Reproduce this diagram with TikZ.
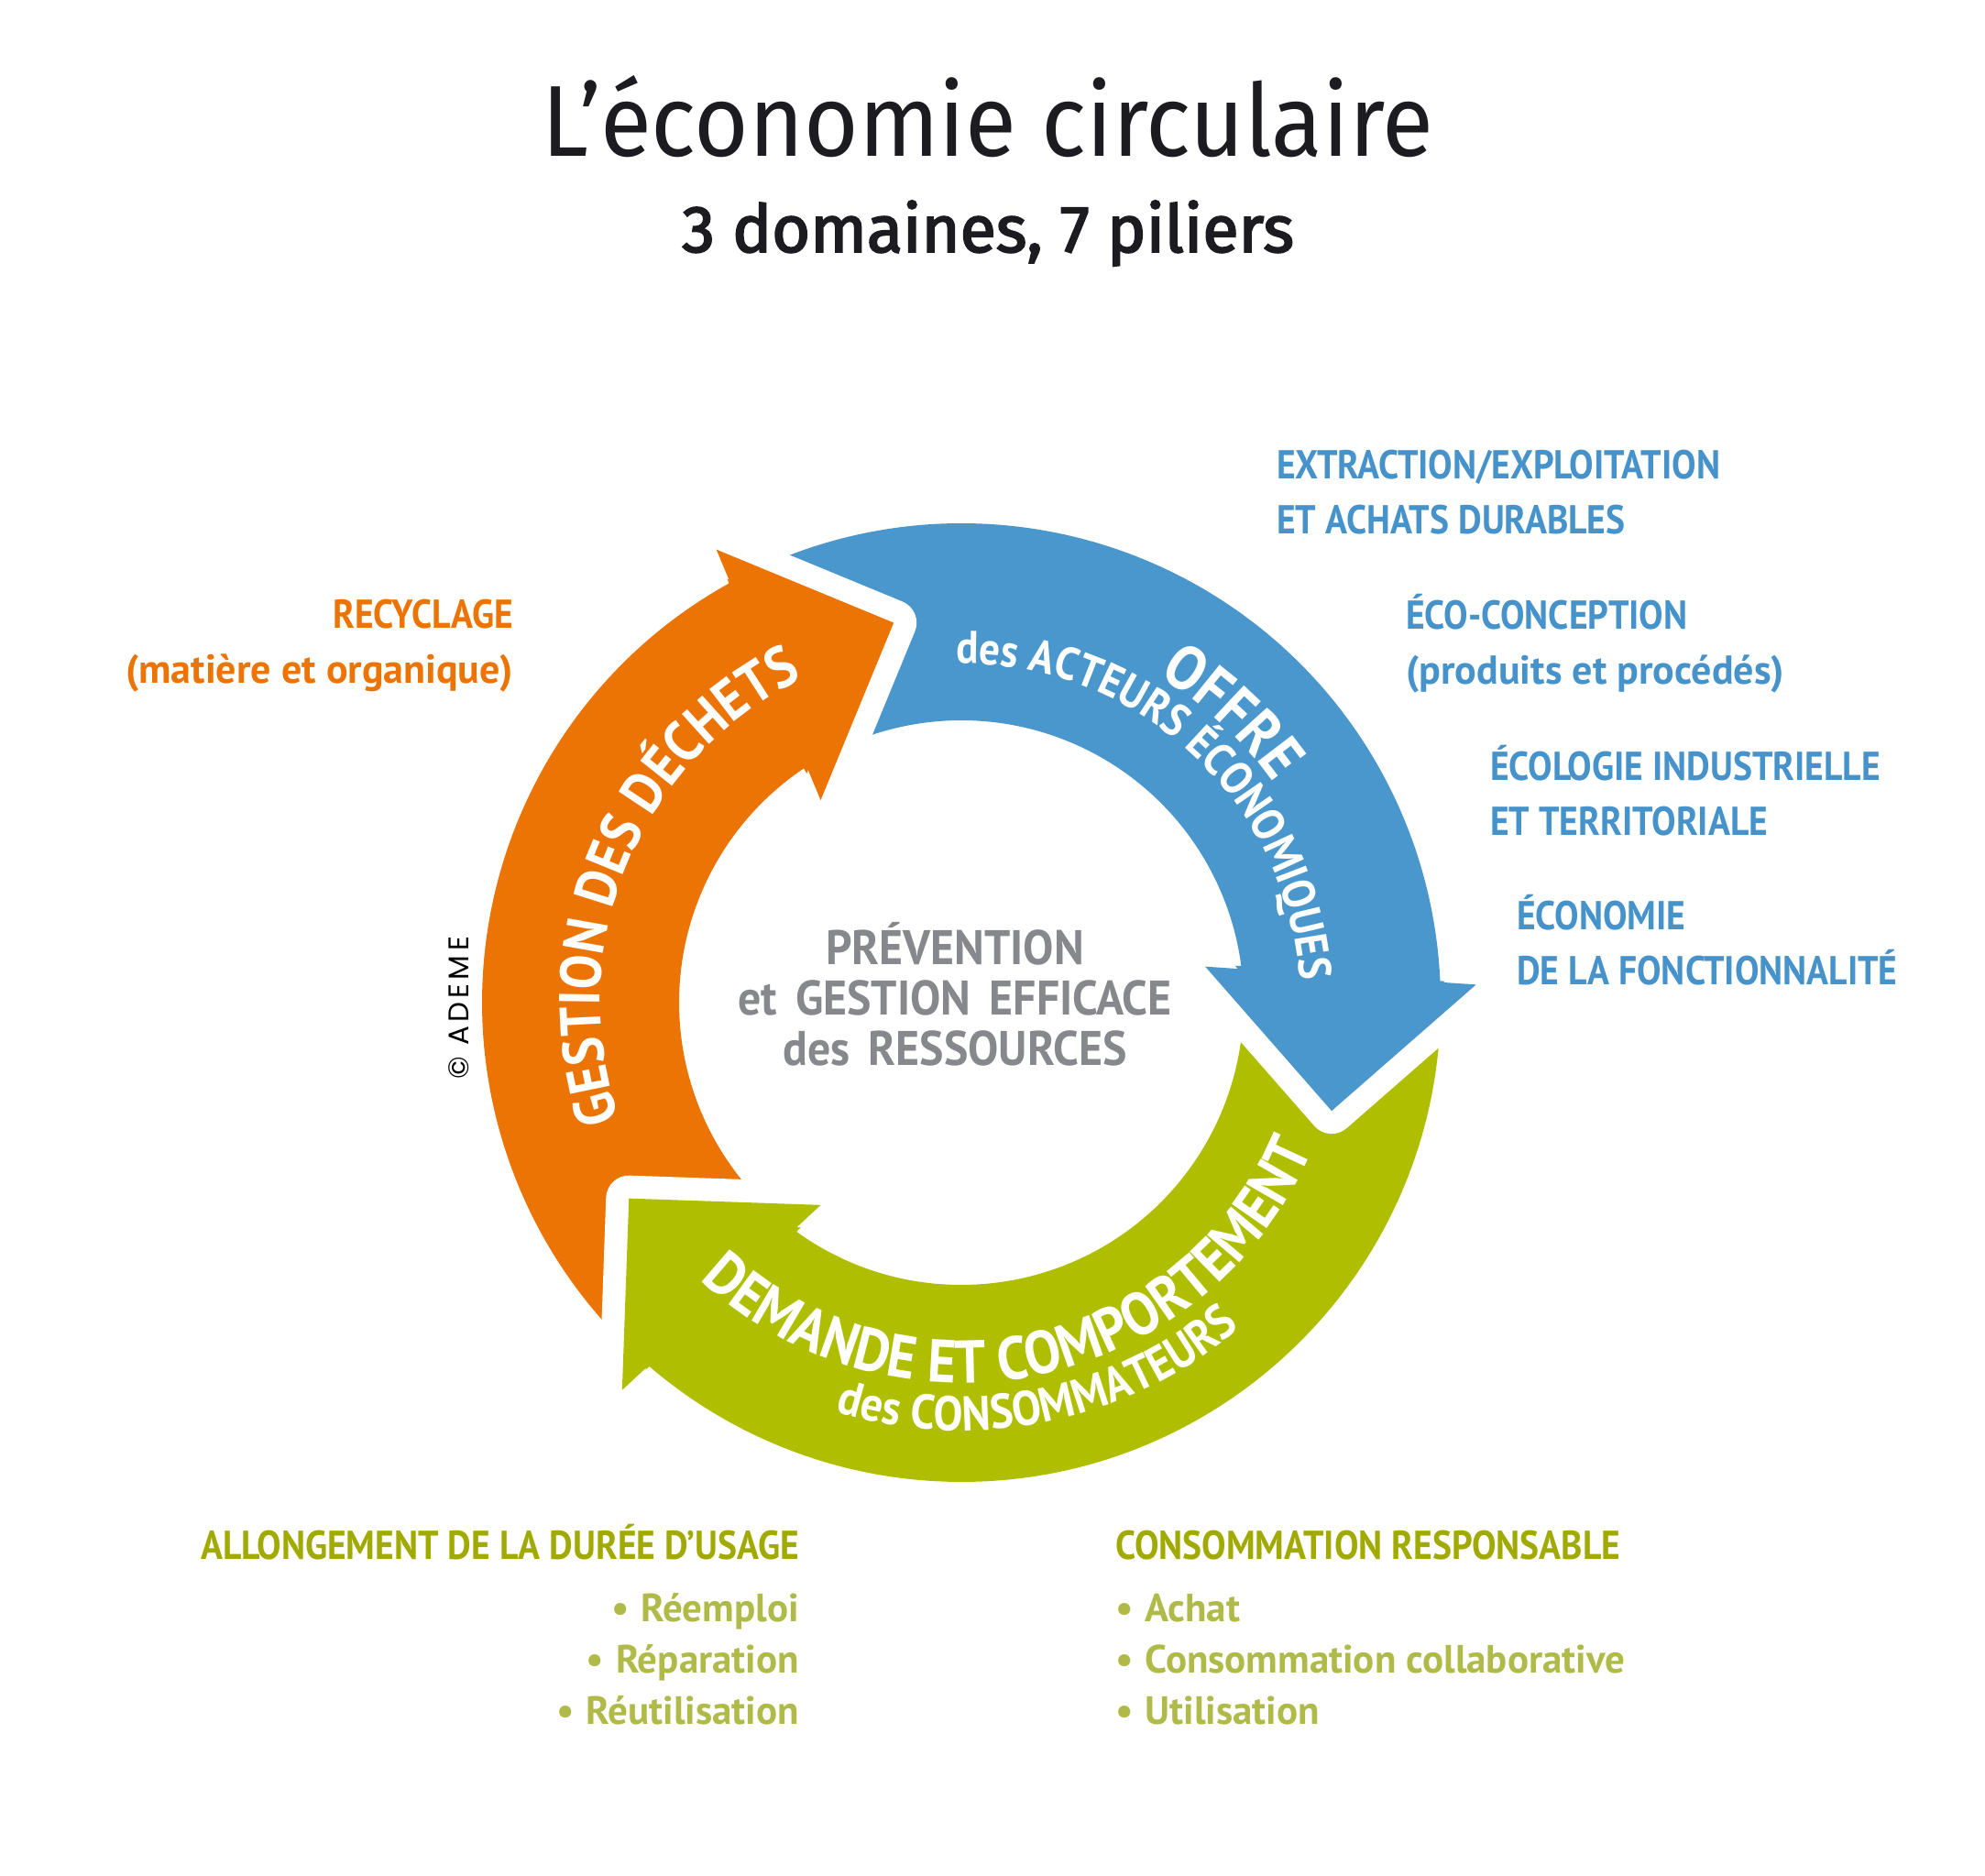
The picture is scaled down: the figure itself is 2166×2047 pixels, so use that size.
\documentclass[tikz,border=0pt]{standalone}
\usepackage{fontspec}
\setmainfont{PT Sans}
\newfontfamily\capfont[FakeStretch=0.90]{PT Sans}
\newfontfamily\centerfont[FakeStretch=0.94,WordSpace=1.6]{PT Sans}
\newfontfamily\titlefont[FakeStretch=0.93]{Fira Sans}
\newfontfamily\subtitlefont[FakeBold=2.6]{Fira Sans}
\newfontfamily\logofont[LetterSpace=14]{Poppins}
\usetikzlibrary{positioning,decorations.text}

\definecolor{wasteorange}{RGB}{236,116,4}
\definecolor{offerblue}{RGB}{74,151,205}
\definecolor{demandgreen}{RGB}{175,191,0}
\definecolor{bluetext}{RGB}{70,146,202}
\definecolor{greenhead}{RGB}{160,170,0}
\definecolor{greenitem}{RGB}{176,186,72}
\definecolor{centergray}{RGB}{135,136,140}
\definecolor{titleblack}{RGB}{28,28,32}

\tikzset{
  headgap/.style={draw=white,line width=50pt,line join=round},
  pillar/.style={inner sep=0pt,font=\bfseries\fontsize{44}{60}\selectfont},
  pillarcaps/.style={inner sep=0pt,font=\capfont\bfseries\fontsize{44}{60}\selectfont},
  bullets/.style={inner sep=0pt,text=greenitem,font=\bfseries\fontsize{43}{56}\selectfont},
}

\begin{document}
\begin{tikzpicture}[x=1pt,y=1pt]
\useasboundingbox (0,0) rectangle (2166,2047);
\fill[white] (0,0) rectangle (2166,2047);

% titre
\node[inner sep=0pt,anchor=base,text=titleblack,font=\titlefont\fontsize{110}{110}\selectfont] (title) at (1078,1876) {L’économie circulaire};
\node[inner sep=0pt,below=104pt of title.base,anchor=base,text=titleblack,font=\subtitlefont\fontsize{72}{72}\selectfont] (subtitle) {3 domaines, 7 piliers};

\coordinate (C) at (1049,953);
\begin{scope}[shift={(C)}]
% pointes des fleches
\coordinate (tipO) at (100.1:421);
\coordinate (outO) at (118.4:562);
\coordinate (inO) at (124.8:269);
\coordinate (tipB) at (-16.3:421);
\coordinate (outB) at (2.0:562);
\coordinate (inB) at (8.4:269);
\coordinate (tipG) at (-149.5:421);
\coordinate (outG) at (-131.2:562);
\coordinate (inG) at (-124.8:269);

% corps des fleches
\fill[wasteorange] (224.5:523) arc[start angle=224.5,end angle=119,radius=523] -- (outO) -- (tipO) -- (inO) -- (123.9:308) arc[start angle=123.9,end angle=224.5,radius=308] -- cycle;
\fill[offerblue] (114.1:523) arc[start angle=114.1,end angle=2.6,radius=523] -- (outB) -- (tipB) -- (inB) -- (7.5:308) arc[start angle=7.5,end angle=114.1,radius=308] -- cycle;
\fill[demandgreen] (-2.4:523) arc[start angle=-2.4,end angle=-130.6,radius=523] -- (outG) -- (tipG) -- (inG) -- (-125.7:308) arc[start angle=-125.7,end angle=-2.4,radius=308] -- cycle;

% pointes par-dessus, avec liseré blanc
\draw[headgap] (outO) -- (tipO) -- (inO);
\fill[wasteorange] (outO) -- (tipO) -- (inO) -- cycle;
\draw[headgap] (outB) -- (tipB) -- (inB);
\fill[offerblue] (outB) -- (tipB) -- (inB) -- cycle;
\draw[headgap] (outG) -- (tipG) -- (inG);
\fill[demandgreen] (outG) -- (tipG) -- (inG) -- cycle;

% textes sur les fleches
\path[decorate,decoration={text along path,text align=center,text color=white,
  text={|\capfont\bfseries\fontsize{63}{63}\selectfont|GESTION DES DÉCHETS}}]
  (217.5:394) arc[start angle=217.5,end angle=97.5,radius=394];
\path[decorate,decoration={text along path,text align=center,text color=white,
  text={|\capfont\bfseries\fontsize{68}{68}\selectfont|OFFRE}}]
  (107:416) arc[start angle=107,end angle=-13,radius=416];
\path[decorate,decoration={text along path,text align=center,text color=white,
  text={|\capfont\bfseries\fontsize{50}{50}\selectfont|des ACTEURS ÉCONOMIQUES}}]
  (107.3:370) arc[start angle=107.3,end angle=-12.7,radius=370];
\path[decorate,decoration={text along path,text align=center,text color=white,
  text={|\capfont\bfseries\fontsize{66}{66}\selectfont|DEMANDE ET COMPORTEMENT}}]
  (217:415) arc[start angle=217,end angle=347,radius=415];
\path[decorate,decoration={text along path,text align=center,text color=white,
  text={|\capfont\bfseries\fontsize{53}{53}\selectfont|des CONSOMMATEURS}}]
  (236.8:467) arc[start angle=236.8,end angle=326.8,radius=467];
\end{scope}

% centre
\node[inner sep=0pt,anchor=base,align=center,text=centergray,font=\centerfont\bfseries\fontsize{53}{55}\selectfont] (center) at (1042,884) {PRÉVENTION\\et GESTION EFFICACE\\des RESSOURCES};

\node[inner sep=0pt,rotate=90,font=\logofont\fontsize{31}{31}\selectfont] (ademe) at (501,947) {© ADEME};

% piliers
\node[pillar,anchor=base east,align=right,text=wasteorange] (recycling) at (560,1301) {{\capfont RECYCLAGE}\\(matière et organique)};
\node[pillarcaps,anchor=base west,align=left,text=bluetext] (extraction) at (1393,1464) {EXTRACTION/EXPLOITATION\\ET ACHATS DURABLES};
\node[pillar,anchor=base west,align=left,text=bluetext] (ecodesign) at (1534,1300) {{\capfont ÉCO-CONCEPTION}\\(produits et procédés)};
\node[pillarcaps,anchor=base west,align=left,text=bluetext] (ecology) at (1626,1135) {ÉCOLOGIE INDUSTRIELLE\\ET TERRITORIALE};
\node[pillarcaps,anchor=base west,align=left,text=bluetext] (functional) at (1655,972) {ÉCONOMIE\\DE LA FONCTIONNALITÉ};

\node[pillarcaps,anchor=base east,text=greenhead] (usage) at (872,345) {ALLONGEMENT DE LA DURÉE D’USAGE};
\node[bullets,below=180pt of usage.base east,anchor=base east,align=right] (usageitems) {•\hspace{0.3em}Réemploi\\•\hspace{0.3em}Réparation\\•\hspace{0.3em}Réutilisation};
\node[pillarcaps,anchor=base west,text=greenhead] (consumption) at (1217,345) {CONSOMMATION RESPONSABLE};
\node[bullets,below=180pt of consumption.base west,anchor=base west,align=left] (consitems) {•\hspace{0.3em}Achat\\•\hspace{0.3em}Consommation collaborative\\•\hspace{0.3em}Utilisation};
\end{tikzpicture}
\end{document}
